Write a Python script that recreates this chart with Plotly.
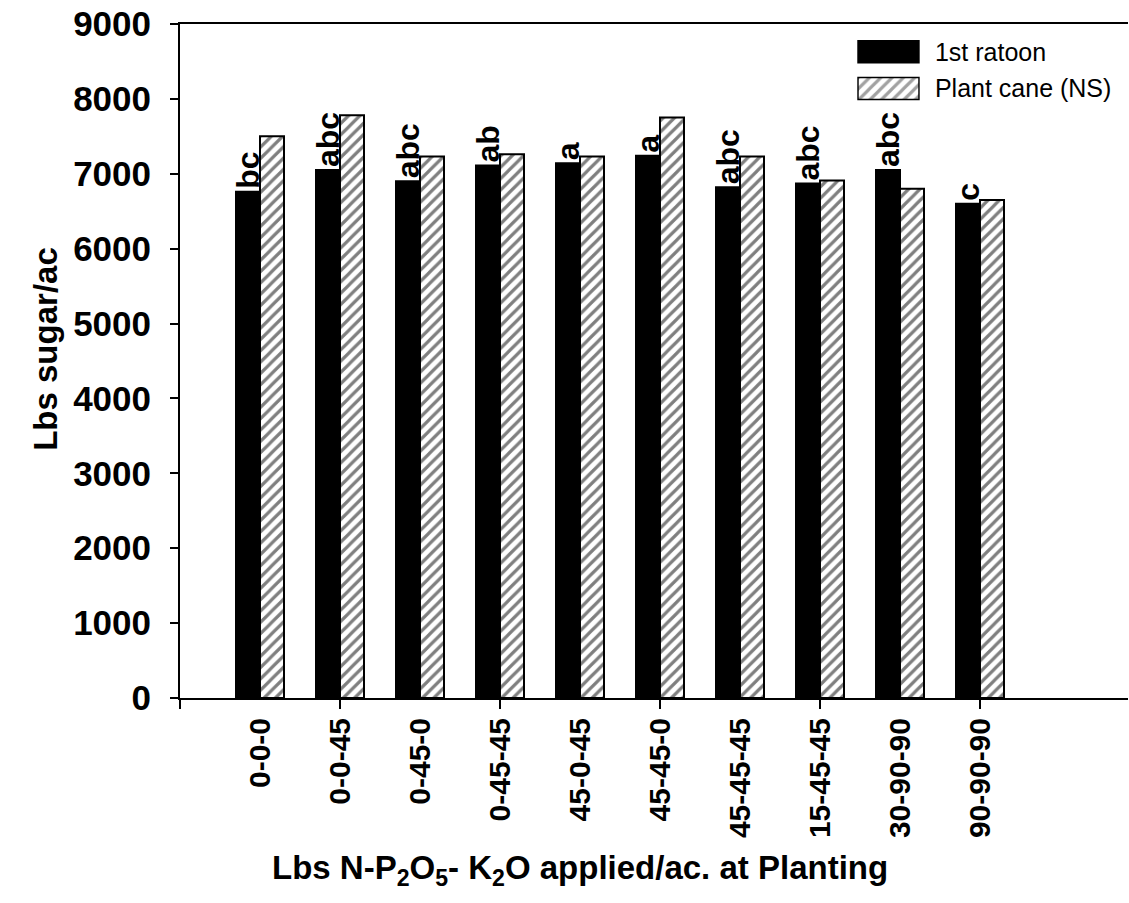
import plotly.graph_objects as go

# Fertilizer treatments (lbs N-P2O5-K2O per acre at planting)
categories = ["0-0-0", "0-0-45", "0-45-0", "0-45-45", "45-0-45",
              "45-45-0", "45-45-45", "15-45-45", "30-90-90", "90-90-90"]

# Sugar yield, lbs sugar per acre
ratoon = [6760, 7050, 6900, 7110, 7140, 7240, 6820, 6870, 7050, 6600]
plant_cane = [7500, 7780, 7230, 7260, 7230, 7750, 7230, 6910, 6800, 6650]

# Mean separation letters for the 1st ratoon crop
letters = ["bc", "abc", "abc", "ab", "a", "a", "abc", "abc", "abc", "c"]

series_names = ["1st ratoon", "Plant cane (NS)"]
y_ticks = list(range(0, 9001, 1000))

FONT = "Arial, Liberation Sans, sans-serif"
positions = list(range(1, len(categories) + 1))
x_range = [0, 11.85]
BAR_W = 0.3
HATCH = dict(shape="/", fgcolor="black", bgcolor="white", size=8, solidity=0.4)

fig = go.Figure()

# 1st ratoon: left bar of each pair, on the labelled x axis
fig.add_trace(go.Bar(
    x=positions, y=ratoon, name=series_names[0],
    width=BAR_W, offset=-BAR_W,
    marker=dict(color="black", line=dict(color="black", width=2)),
    text=letters, textposition="outside", textangle=-90,
    constraintext="none", cliponaxis=False,
    outsidetextfont=dict(family=FONT, size=32, color="black", weight="bold"),
    showlegend=False, hoverinfo="skip",
))
# Plant cane: right bar of each pair, on the overlaid tick-mark axis
fig.add_trace(go.Bar(
    x=positions, y=plant_cane, name=series_names[1], xaxis="x3",
    width=BAR_W, offset=0,
    marker=dict(color="white", line=dict(color="black", width=2),
                pattern=HATCH),
    showlegend=False, hoverinfo="skip",
))

# Legend swatches drawn as a small bar chart of their own
fig.add_trace(go.Bar(
    x=[1, 1], y=series_names, orientation="h", xaxis="x2", yaxis="y2",
    width=0.6,
    marker=dict(color=["black", "white"], line=dict(color="black", width=1.5),
                pattern=dict(shape=["", "/"], fgcolor="black",
                             bgcolor=["black", "white"], size=8, solidity=0.4)),
    showlegend=False, hoverinfo="skip",
))

tick_font = dict(family=FONT, color="black", weight="bold")

fig.update_layout(
    width=1129, height=903,
    margin=dict(l=180, r=1, t=24, b=205),
    plot_bgcolor="white", paper_bgcolor="white",
    barmode="overlay",
    showlegend=False,
    xaxis=dict(
        range=x_range, tickmode="array", tickvals=positions,
        ticktext=categories, tickangle=-90,
        ticks="outside", ticklen=6, tickcolor="rgba(0,0,0,0)",
        tickfont=dict(size=30, **tick_font),
        showline=True, linecolor="black", linewidth=2, mirror=True,
        showgrid=False, zeroline=False, fixedrange=True,
    ),
    xaxis3=dict(
        overlaying="x", anchor="y", side="bottom", range=x_range,
        tickmode="array", tickvals=[0, 2, 4, 6, 8, 10],
        ticks="outside", ticklen=10, tickwidth=2, tickcolor="black",
        showticklabels=False, showline=False, showgrid=False,
        zeroline=False, fixedrange=True,
    ),
    yaxis=dict(
        range=[0, 9000], tickmode="array", tickvals=y_ticks,
        ticks="outside", ticklen=8, tickwidth=2, tickcolor="black",
        showline=True, linecolor="black", linewidth=2,
        showgrid=False, zeroline=False,
        tickfont=dict(size=35, **tick_font), ticklabelstandoff=12,
    ),
    xaxis2=dict(domain=[0.7142, 0.7805], anchor="y2", range=[-0.015, 1.015],
                visible=False, fixedrange=True),
    yaxis2=dict(domain=[0.877, 0.986], anchor="x2", side="right",
                autorange="reversed", tickmode="array", tickvals=series_names,
                ticks="", showline=False, showgrid=False, zeroline=False,
                ticklabelstandoff=14,
                tickfont=dict(family=FONT, size=25, color="black")),
    annotations=[
        dict(text="Lbs sugar/ac", xref="paper", yref="paper",
             x=-0.1414, y=0.518, textangle=-90, showarrow=False,
             xanchor="center", yanchor="middle",
             font=dict(family=FONT, size=33, color="black", weight="bold")),
        dict(text="Lbs N-P<sub>2</sub>O<sub>5</sub>- K<sub>2</sub>O applied/ac. at Planting",
             xref="paper", yref="paper", x=0.422, y=-0.255,
             showarrow=False, xanchor="center", yanchor="middle",
             font=dict(family=FONT, size=33, color="black", weight="bold")),
    ],
)

fig.write_html("out.html")
